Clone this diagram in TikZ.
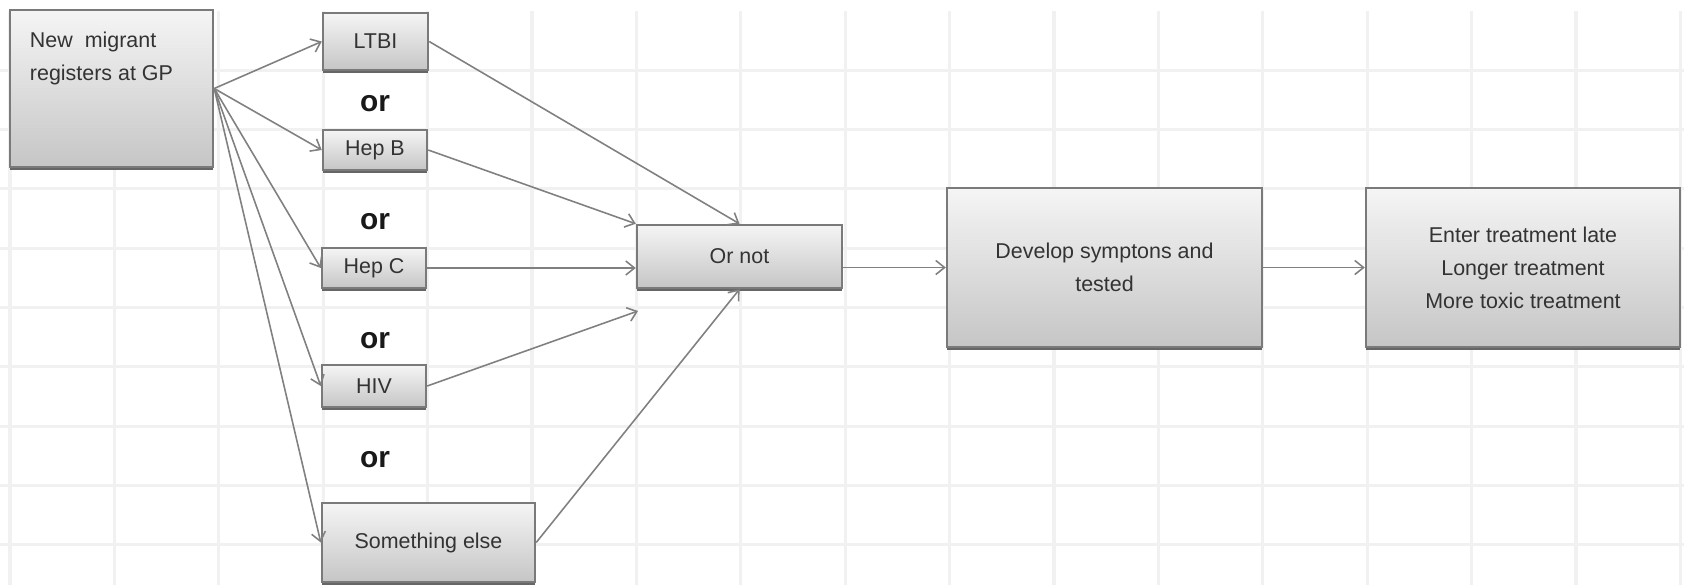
\documentclass[tikz,border=0pt]{standalone}
\usepackage{fontspec}
\setmainfont{Liberation Sans}
\usetikzlibrary{arrows.meta,shadows}
\tikzset{
    every node/.style={font=\fontsize{12.2}{18.8}\selectfont, text=black!80}
}
\tikzset{
    box/.style={rectangle, draw=black!52, line width=1.4pt, inner sep=0pt,
    	top color=gray!8, bottom color=gray!45,
    	general shadow={shadow yshift=-1.6pt, fill=black!60}}
}
\tikzset{
    every edge/.append style={draw=black!50, line width=0.9pt,
    	-{Straight Barb[length=5pt,width=8pt]}}
}
\tikzset{
    ortext/.style={font=\fontsize{17}{20}\selectfont\bfseries, text=black!90},
    gridline/.style={draw=gray!11, line width=1.8pt}
}
\pgfdeclarelayer{background}
\pgfsetlayers{background,main}

\begin{document}
\begin{tikzpicture}[x=0.02cm, y=-0.02cm]
	\useasboundingbox (0,0) rectangle (1684,585);
	\begin{pgfonlayer}{background}
		\foreach \k in {0,...,16}
			\draw[gridline] ({10+104.4*\k},11) -- ({10+104.4*\k},585);
		\foreach \k in {0,...,8}
			\draw[gridline] (0,{70.3+59.3*\k}) -- (1684,{70.3+59.3*\k});
	\end{pgfonlayer}

	\node (migrant) [box, minimum width=4.06cm, minimum height=3.14cm] at (111.5, 88.5) {};
	\node (migranttxt) [anchor=north west, align=left] at ([xshift=0.3cm, yshift=-0.34cm]migrant.north west) {New\ \ migrant\\registers at GP};
	\node (ltbi) [box, minimum width=2.1cm, minimum height=1.14cm] at (375.5, 41.5) {LTBI};
	\node (hepb) [box, minimum width=2.08cm, minimum height=0.8cm] at (375, 150) {Hep B};
	\node (hepc) [box, minimum width=2.08cm, minimum height=0.8cm] at (374, 268) {Hep C};
	\node (hiv) [box, minimum width=2.08cm, minimum height=0.84cm] at (374, 386) {HIV};
	\node (something) [box, minimum width=4.26cm, minimum height=1.58cm] at (428.5, 542.5) {Something else};
	\node (ornot) [box, minimum width=4.1cm, minimum height=1.26cm] at (739.5, 256.5) {Or not};
	\node (develop) [box, minimum width=6.3cm, minimum height=3.18cm, align=center] at (1104.5, 267.5) {Develop symptons and\\tested};
	\node (enter) [box, minimum width=6.28cm, minimum height=3.18cm, align=center] at (1523, 267.5) {Enter treatment late\\Longer treatment\\More toxic treatment};

	\node (or1) [ortext] at (375, 104) {or};
	\node (or2) [ortext] at (375, 222) {or};
	\node (or3) [ortext] at (375, 341) {or};
	\node (or4) [ortext] at (375, 460) {or};
	\coordinate (hivend) at (638, 311);

	\draw (migrant.east) edge (ltbi.west); \draw (migrant.east) edge (hepb.west);
	\draw (migrant.east) edge (hepc.west); \draw (migrant.east) edge (hiv.west);
	\draw (migrant.east) edge (something.west);
	\draw (ltbi.east) edge (ornot.north); \draw (hepb.east) edge (ornot.north west);
	\draw (hepc.east) edge (hepc.east -| ornot.west); \draw (hiv.east) edge (hivend);
	\draw (something.east) edge (ornot.south);
	\draw (ornot.east |- develop.west) edge (develop.west);
	\draw (develop.east) edge (enter.west);
\end{tikzpicture}
\end{document}
